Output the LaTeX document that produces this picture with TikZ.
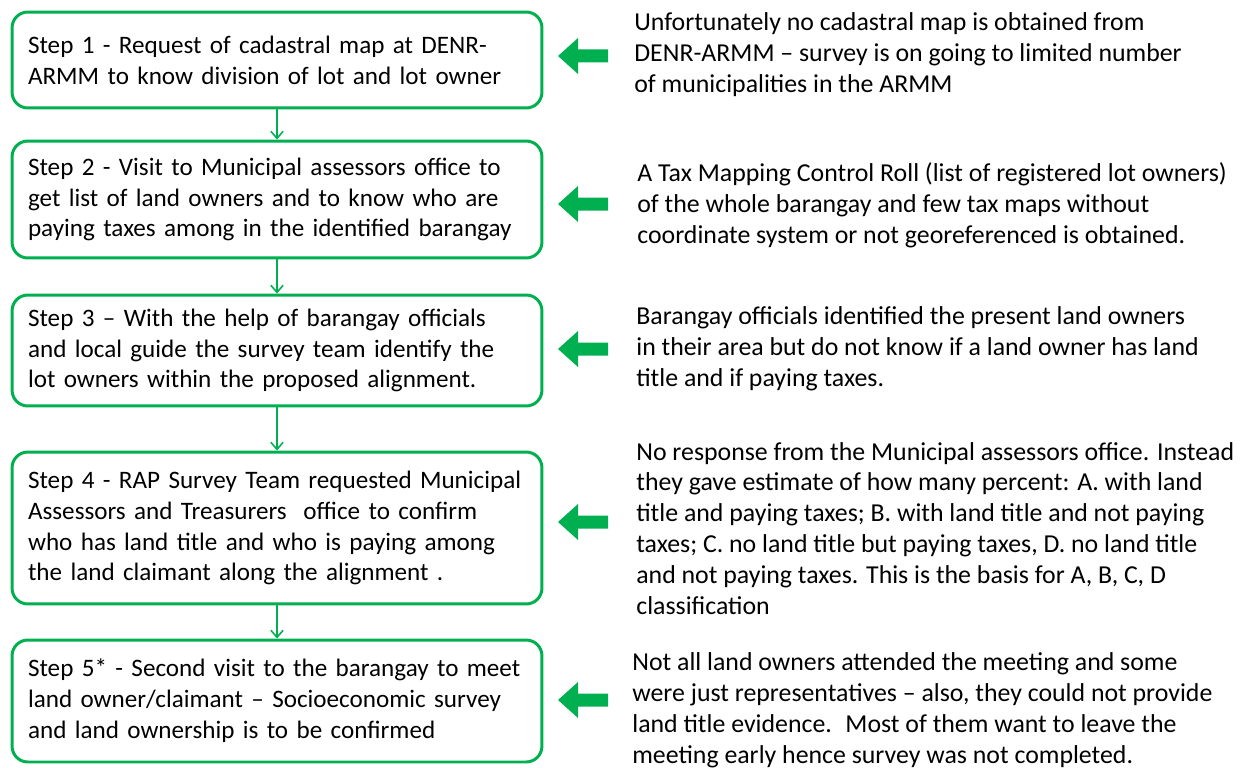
\documentclass[tikz,border=0pt]{standalone}
\usepackage{fontspec}
\setmainfont{Carlito}
\usepackage{tikz}
\usetikzlibrary{arrows.meta}

\definecolor{stepgreen}{RGB}{0,176,80}

\begin{document}
\begin{tikzpicture}[
  x=0.02cm, y=-0.02cm,
  stepbox/.style={
    draw=stepgreen,
    line width=1.7pt,
    rounded corners=9pt,
    minimum width=10.6cm,
    text width=9.96cm,
    align=left,
    inner sep=0pt,
    font=\fontsize{14.3}{17.6}\selectfont
  },
  note/.style={
    anchor=west,
    align=left,
    inner sep=0pt,
    font=\fontsize{14.7}{17.6}\selectfont
  },
  flow/.style={
    draw=stepgreen,
    line width=0.9pt,
    -{Straight Barb[length=4pt,width=7pt]}
  }
]

\useasboundingbox (0,0) rectangle (1240,767);
\clip (0,0) rectangle (1240,767);

% steps on the left
\node[stepbox, minimum height=1.92cm] (s1) at (277,60)
  {Step 1 - Request of cadastral map at DENR-\\ARMM to know division of lot and lot owner};
\node[stepbox, minimum height=2.34cm] (s2) at (277,199.5)
  {Step 2 - Visit to Municipal assessors office to\\get list of land owners and to know who are\\paying taxes among in the identified barangay};
\node[stepbox, minimum height=2.22cm] (s3) at (277,350.5)
  {Step 3 -- With the help of barangay officials\\and local guide the survey team identify the\\lot owners within the proposed alignment.};
\node[stepbox, minimum height=3.04cm] (s4) at (277,528)
  {Step 4 - RAP Survey Team requested Municipal\\Assessors and Treasurers~ office to confirm\\who has land title and who is paying among\\the land claimant along the alignment .};
\node[stepbox, minimum height=2.44cm] (s5) at (277,701)
  {Step 5* - Second visit to the barangay to meet\\land owner/claimant -- Socioeconomic survey\\and land ownership is to be confirmed};

\draw[flow] (s1) -- (s2);
\draw[flow] (s2) -- (s3);
\draw[flow] (s3) -- (s4);
\draw[flow] (s4) -- (s5);

% findings on the right
\node[note] (n1) at (634,55)
  {Unfortunately no cadastral map is obtained from\\DENR-ARMM -- survey is on going to limited number\\of municipalities in the ARMM};
\node[note] (n2) at (637,205)
  {A Tax Mapping Control Roll (list of registered lot owners)\\of the whole barangay and few tax maps without\\coordinate system or not georeferenced is obtained.};
\node[note] (n3) at (636,349)
  {Barangay officials identified the present land owners\\in their area but do not know if a land owner has land\\title and if paying taxes.};
\node[note] (n4) at (636,528.5)
  {No response from the Municipal assessors office. Instead\\they gave estimate of how many percent: A. with land\\title and paying taxes; B. with land title and not paying\\taxes; C. no land title but paying taxes, D. no land title\\and not paying taxes. This is the basis for A, B, C, D\\classification};
\node[note] (n5) at (632,710)
  {Not all land owners attended the meeting and some\\were just representatives -- also, they could not provide\\land title evidence.~ Most of them want to leave the\\meeting early hence survey was not completed.};

% fat arrows from findings to steps
\foreach \y in {56,204,349,522,700}
  \fill[stepgreen] (558,\y) -- ++(20,-18) -- ++(0,11.5) -- ++(30,0)
    -- ++(0,13) -- ++(-30,0) -- ++(0,11.5) -- cycle;

\end{tikzpicture}
\end{document}
